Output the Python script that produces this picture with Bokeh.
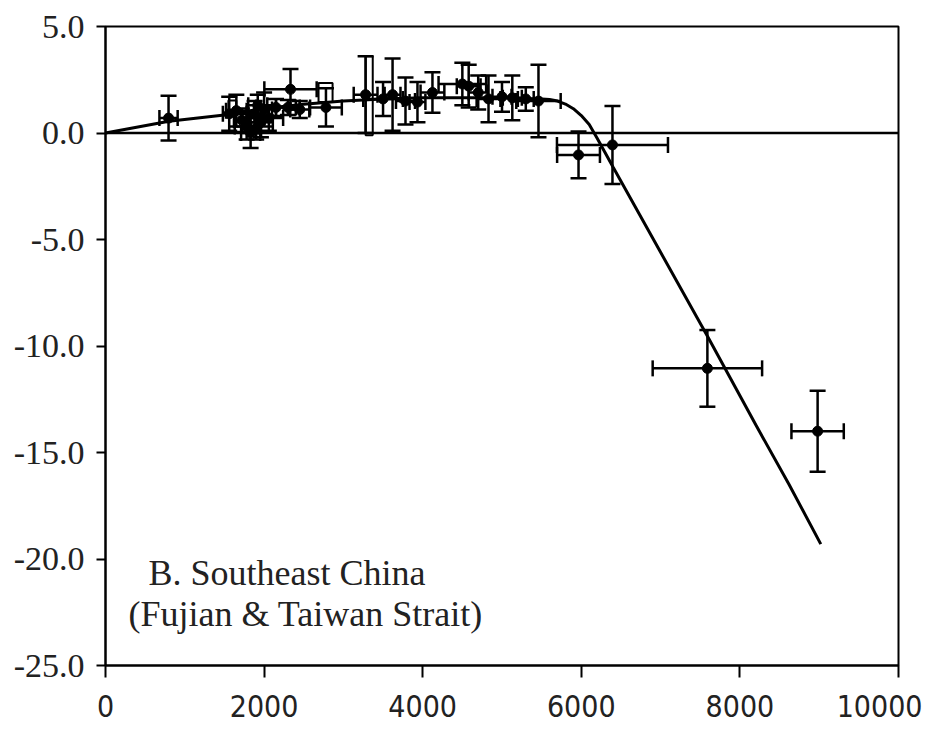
from bokeh.plotting import figure
from bokeh.models import (ColumnDataSource, Whisker, TeeHead, Span, Label,
                          FixedTicker)
from bokeh.embed import file_html
from bokeh.resources import INLINE

# ---- data (years BP, sea level in m) ----
pt_x    = [795, 1560, 1650, 1720, 1780, 1830, 1880, 1900, 1920, 1960, 2000, 2060,
           2150, 2300, 2333, 2450, 2780, 3280, 3500, 3620, 3783, 3934, 4123,
           4500, 4580, 4700, 4830, 5000, 5130, 5300, 5460, 5965, 6393, 7590, 8980]
pt_y    = [0.7, 0.9, 1.05, 0.6, 0.3, 0.0, 0.9, 0.2, 1.3, 0.5, 1.1, 0.7,
           1.2, 1.2, 2.05, 1.1, 1.2, 1.8, 1.6, 1.8, 1.5, 1.45, 1.9,
           2.3, 2.2, 1.9, 1.6, 1.7, 1.65, 1.6, 1.5, -1.03, -0.56, -11.05, -14.0]
pt_xerr = [115, 80, 130, 100, 150, 120, 100, 60, 120, 150, 100, 180,
           250, 150, 330, 120, 200, 150, 250, 100, 120, 100, 150,
           300, 150, 120, 150, 120, 120, 100, 280, 270, 700, 690, 330]
pt_yerr = [1.05, 0.8, 0.75, 0.55, 0.6, 0.7, 0.6, 0.5, 0.5, 0.7, 0.8, 0.6,
           0.4, 0.35, 0.95, 0.4, 0.9, 1.8, 0.8, 1.7, 1.1, 0.95, 0.95,
           1.0, 1.0, 0.8, 1.1, 0.7, 1.05, 0.55, 1.7, 1.1, 1.83, 1.8, 1.9]

box_x = [1600, 2775, 3325]
box_y = [1.3, 1.9, 1.75]
box_w = [100, 177, 90]
box_h = [0.45, 0.9, 3.7]

curve_x = [0, 800, 1500, 2000, 2500, 3000, 3500, 4000, 4500, 5000, 5500,
           5600, 5700, 5800, 5900, 6000, 6100, 6200, 6400, 7000, 7600,
           8200, 8620, 9020]
curve_y = [0, 0.55, 0.85, 1.15, 1.35, 1.5, 1.6, 1.65, 1.65, 1.65, 1.6,
           1.57, 1.5, 1.36, 1.14, 0.82, 0.4, -0.25, -1.6, -5.6, -9.6,
           -13.7, -16.5, -19.3]

x_ticks = [0, 2000, 4000, 6000, 8000, 10000]
y_ticks = [-25, -20, -15, -10, -5, 0, 5]
y_tick_labels = ["-25.0", "-20.0", "-15.0", "-10.0", "-5.0", "0.0", "5.0"]

title1 = "B. Southeast China"
title2 = "(Fujian & Taiwan Strait)"

SERIF = "'Liberation Serif', 'Times New Roman', serif"
NARROW = "'Liberation Sans Narrow', 'DejaVu Sans Condensed', sans-serif"

p = figure(width=922, height=735, x_range=(0, 10000), y_range=(-25, 5),
           output_backend="svg", toolbar_location=None,
           min_border_left=105, min_border_right=24,
           min_border_top=26, min_border_bottom=70)
p.background_fill_color = "white"
p.border_fill_color = "white"
p.xgrid.visible = False
p.ygrid.visible = False
p.outline_line_color = "black"
p.outline_line_width = 2

p.xaxis.ticker = FixedTicker(ticks=x_ticks)
p.yaxis.ticker = FixedTicker(ticks=y_ticks)
p.yaxis.major_label_overrides = {t: l for t, l in zip(y_ticks, y_tick_labels)}
p.xaxis.major_label_overrides = {t: str(t) for t in x_ticks}
for ax in (p.xaxis, p.yaxis):
    ax.axis_line_color = "black"
    ax.axis_line_width = 2
    ax.major_tick_line_color = "black"
    ax.major_tick_line_width = 2
    ax.major_tick_in = 0
    ax.minor_tick_line_color = None
p.yaxis.major_tick_out = 9
p.xaxis.major_tick_out = 12
p.yaxis.major_label_text_font = SERIF
p.yaxis.major_label_text_font_size = "34px"
p.yaxis.major_label_text_color = "#222222"
p.yaxis.major_label_standoff = 12
p.xaxis.major_label_text_font = NARROW
p.xaxis.major_label_text_font_size = "30px"
p.xaxis.major_label_text_color = "#222222"
p.xaxis.major_label_standoff = 17

# zero line
p.add_layout(Span(location=0, dimension="width", line_color="black", line_width=2.5))

src = ColumnDataSource(dict(
    x=pt_x, y=pt_y,
    ylo=[y - e for y, e in zip(pt_y, pt_yerr)],
    yhi=[y + e for y, e in zip(pt_y, pt_yerr)],
    xlo=[x - e for x, e in zip(pt_x, pt_xerr)],
    xhi=[x + e for x, e in zip(pt_x, pt_xerr)],
))

def head():
    return TeeHead(size=16, line_color="black", line_width=2.5)

p.add_layout(Whisker(source=src, base="x", lower="ylo", upper="yhi",
                     dimension="height", line_color="black", line_width=2.5,
                     upper_head=head(), lower_head=head()))
p.add_layout(Whisker(source=src, base="y", lower="xlo", upper="xhi",
                     dimension="width", line_color="black", line_width=2.5,
                     upper_head=head(), lower_head=head()))

p.rect(x=box_x, y=box_y, width=box_w, height=box_h, fill_color=None,
       line_color="black", line_width=2)

p.line(curve_x, curve_y, line_color="black", line_width=3)

p.scatter(pt_x, pt_y, size=10, color="black")

p.add_layout(Label(x=542, y=-21.6, text=title1, text_font=SERIF,
                   text_font_size="36px", text_color="#222222"))
p.add_layout(Label(x=290, y=-23.5, text=title2, text_font=SERIF,
                   text_font_size="36px", text_color="#222222"))

open("out.html", "w").write(file_html(p, INLINE))
